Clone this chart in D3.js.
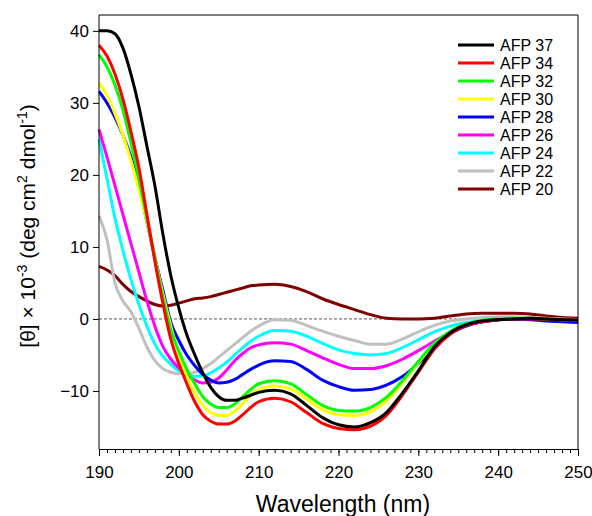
<!DOCTYPE html>
<html>
<head>
<meta charset="utf-8">
<script src="https://cdn.jsdelivr.net/npm/d3@7"></script>
<style>
	body { margin: 0; background: #fff; }
	svg { display: block; font-family: Arial, "Liberation Sans", sans-serif; }
</style>
</head>
<body>
<div id="chart"></div>
<script>
"use strict";

// wavelengths (nm) shared by every spectrum
const wavelengths = [190, 191, 192, 193, 194, 195, 196, 197, 198, 199, 200, 201, 202, 203, 204, 205, 206, 207, 208, 209, 210,
	212, 214, 216, 218, 220, 222, 224, 226, 228, 230, 232, 234, 236, 238, 240, 242, 244, 246, 248, 250];

// mean residue ellipticity x 10^-3
const afp37 = [40, 40, 39.6, 37.6, 34, 29.5, 24, 18.5, 11.8, 6, 1.5, -2.2, -5, -7.5, -9.5, -10.8, -11.3, -11.3, -11, -10.6, -10.2,
	-9.9, -10.4, -12, -13.7, -14.7, -15, -14.4, -13, -10.3, -7.2, -3.9, -1.9, -0.8, -0.3, -0.1, 0, 0.1, 0, -0.1, -0.2];
const afp34 = [38, 36.5, 34, 30.5, 26, 21, 14.5, 8, 2.2, -2.8, -6.2, -9, -11.5, -13.3, -14.2, -14.6, -14.6, -14.2, -13.3, -12.3, -11.5,
	-11, -11.5, -13, -14.5, -15.2, -15.4, -14.9, -13.4, -10.6, -7.4, -4.2, -2.1, -0.9, -0.4, -0.1, 0, 0, 0, -0.1, -0.1];
const afp32 = [36.7, 35, 32.5, 29, 24.5, 19.5, 14, 8.5, 3, -1.5, -4.5, -7, -9, -10.8, -11.8, -12.3, -12.3, -11.8, -10.8, -9.8, -9,
	-8.6, -9, -10.5, -12, -12.7, -12.8, -12.3, -10.9, -8.6, -5.9, -3.4, -1.7, -0.7, -0.2, 0, 0.1, 0.1, 0, -0.1, -0.2];
const afp30 = [32.8, 31, 28.5, 25.5, 22, 18, 13.5, 8.5, 3.5, -1, -5, -8, -10.3, -12, -13, -13.4, -13.4, -12.8, -11.8, -10.6, -9.8,
	-9.3, -9.7, -11.1, -12.6, -13.3, -13.4, -12.9, -11.4, -8.9, -6.1, -3.5, -1.8, -0.8, -0.3, 0, 0.1, 0.1, 0, -0.1, -0.2];
const afp28 = [31.6, 30, 28, 25.5, 22.5, 18.5, 13.5, 8.5, 4, -0.5, -3, -5, -6.5, -7.7, -8.5, -8.9, -8.8, -8.4, -7.7, -7, -6.4,
	-5.8, -5.9, -7, -8.5, -9.4, -9.9, -9.8, -9.2, -8, -6.2, -4, -2.1, -1, -0.4, -0.1, 0, -0.1, -0.3, -0.4, -0.5];
const afp26 = [26.3, 22.5, 18.5, 14.5, 10.5, 6.5, 2.5, -1, -3.8, -5.6, -6.8, -7.8, -8.5, -8.9, -8.8, -8.2, -7.1, -5.8, -4.8, -4, -3.6,
	-3.3, -3.5, -4.4, -5.4, -6.3, -6.9, -6.9, -6.5, -5.6, -4.4, -3.1, -1.9, -0.9, -0.4, -0.1, 0, 0.1, 0, -0.1, -0.1];
const afp24 = [25, 19.5, 14, 9.5, 5.5, 2, -1, -3.5, -5.2, -6.3, -7.2, -7.7, -8, -7.9, -7.5, -6.8, -6, -5, -4, -3.1, -2.4,
	-1.6, -1.7, -2.4, -3.4, -4.3, -4.8, -5, -4.8, -4, -2.9, -1.8, -1, -0.5, -0.2, 0, 0.1, 0.1, 0, -0.1, -0.2];
const afp22 = [14.3, 11, 5, 2.5, 1, -1.3, -3.9, -5.8, -6.9, -7.4, -7.6, -7.6, -7.4, -6.9, -6.2, -5.3, -4.4, -3.5, -2.6, -1.7, -1,
	-0.1, -0.2, -0.9, -1.7, -2.4, -3, -3.5, -3.5, -2.8, -1.8, -0.9, -0.3, 0, 0.2, 0.3, 0.3, 0.2, 0.1, 0, -0.1];
const afp20 = [7.3, 6.8, 6, 4.8, 3.8, 3.1, 2.5, 2, 1.8, 1.9, 2.2, 2.5, 2.8, 2.9, 3.1, 3.4, 3.7, 4, 4.3, 4.6, 4.7,
	4.8, 4.5, 3.8, 2.8, 2, 1.3, 0.6, 0.1, 0, 0, 0.1, 0.4, 0.7, 0.8, 0.8, 0.8, 0.7, 0.4, 0.2, 0.1];

const seriesNames = ["AFP 37", "AFP 34", "AFP 32", "AFP 30", "AFP 28", "AFP 26", "AFP 24", "AFP 22", "AFP 20"];
const seriesValues = [afp37, afp34, afp32, afp30, afp28, afp26, afp24, afp22, afp20];
const seriesColors = ["#000000", "#ff0000", "#00ff00", "#ffff00", "#0000ff", "#ff00ff", "#00ffff", "#c0c0c0", "#800000"];

const xTicks = [190, 200, 210, 220, 230, 240, 250];
const yTicks = [-10, 0, 10, 20, 30, 40];

const width = 592;
const height = 516;
const margin = { top: 15, right: 14, bottom: 67, left: 99 };
const fontFamily = "Arial, 'Liberation Sans', sans-serif";

const svg = d3.select("#chart")
	.append("svg")
	.attr("width", width)
	.attr("height", height);

const x = d3.scaleLinear()
	.domain([190, 250])
	.range([margin.left, width - margin.right]);

const y = d3.scaleLinear()
	.domain([-18.06, 42.2])
	.range([height - margin.bottom, margin.top]);

// zero reference line
svg.append("line")
	.attr("x1", x(190))
	.attr("x2", x(250))
	.attr("y1", y(0))
	.attr("y2", y(0))
	.attr("stroke", "#555")
	.attr("stroke-width", 1)
	.attr("stroke-dasharray", "3,2");

// spectra
const line = d3.line()
	.x((d) => x(d[0]))
	.y((d) => y(d[1]))
	.curve(d3.curveMonotoneX);

const series = seriesNames.map((name, i) => ({
	name: name,
	color: seriesColors[i],
	points: wavelengths.map((w, j) => [w, seriesValues[i][j]]),
}));

svg.append("g")
	.attr("id", "spectra")
	.selectAll("path")
	.data(series.slice().reverse())
	.enter()
	.append("path")
	.attr("d", (d) => line(d.points))
	.attr("fill", "none")
	.attr("stroke", (d) => d.color)
	.attr("stroke-width", 3)
	.attr("stroke-linejoin", "round");

// frame (top + right)
svg.append("path")
	.attr("d", `M${x(190)},${y.range()[1]}H${x(250)}V${y.range()[0]}`)
	.attr("fill", "none")
	.attr("stroke", "#000")
	.attr("stroke-width", 1);

// x axis with minor ticks every nm
const xAxisG = svg.append("g")
	.attr("transform", `translate(0,${y.range()[0]})`);

xAxisG.append("g")
	.call(d3.axisBottom(x).tickValues(d3.range(190, 251, 1)).tickSize(4).tickFormat(""))
	.call((g) => g.select(".domain").remove());

xAxisG.append("g")
	.call(d3.axisBottom(x).tickValues(xTicks).tickSize(7).tickSizeOuter(0).tickPadding(10).tickFormat(d3.format("d")))
	.call((g) => g.selectAll("text").attr("font-size", "17px").attr("fill", "#000").attr("font-family", fontFamily));

// y axis
svg.append("g")
	.attr("transform", `translate(${x(190)},0)`)
	.call(d3.axisLeft(y).tickValues(yTicks).tickSize(6).tickSizeOuter(0).tickPadding(4)
		.tickFormat((d) => (d < 0 ? "\u2212" + Math.abs(d) : d)))
	.call((g) => g.select(".domain").attr("d", `M0,${y.range()[0]}V${y.range()[1]}`))
	.call((g) => g.selectAll("text").attr("font-size", "17px").attr("fill", "#000").attr("font-family", fontFamily));

// axis titles
svg.append("text")
	.attr("x", 343)
	.attr("y", 512)
	.attr("text-anchor", "middle")
	.attr("font-size", "23px")
	.text("Wavelength (nm)");

const yTitle = svg.append("text")
	.attr("transform", "translate(35,226) rotate(-90)")
	.attr("text-anchor", "middle")
	.attr("font-size", "21px");
yTitle.append("tspan").text("[\u03b8] \u00d7 10");
yTitle.append("tspan").attr("dy", -8).attr("font-size", "14px").text("-3");
yTitle.append("tspan").attr("dy", 8).text(" (deg cm");
yTitle.append("tspan").attr("dy", -8).attr("font-size", "14px").text("2");
yTitle.append("tspan").attr("dy", 8).text(" dmol");
yTitle.append("tspan").attr("dy", -8).attr("font-size", "14px").text("-1");
yTitle.append("tspan").attr("dy", 8).text(")");

// legend
const legend = svg.append("g")
	.attr("transform", "translate(458,45)")
	.selectAll("g")
	.data(series)
	.enter()
	.append("g")
	.attr("transform", (d, i) => `translate(0,${i * 18})`);

legend.append("line")
	.attr("x1", 0)
	.attr("x2", 36)
	.attr("stroke", (d) => d.color)
	.attr("stroke-width", 3);

legend.append("text")
	.attr("x", 42)
	.attr("y", 5.5)
	.attr("font-size", "16px")
	.text((d) => d.name);
</script>
</body>
</html>
